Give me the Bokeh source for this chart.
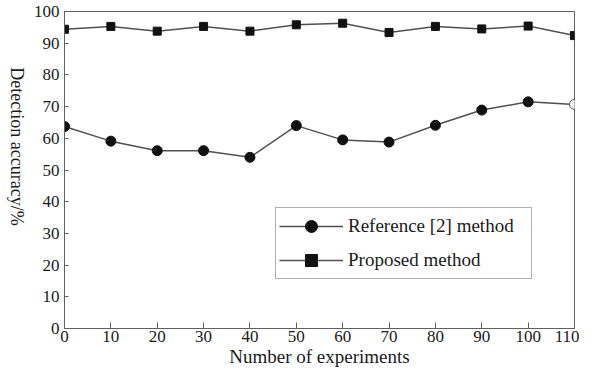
import math
from bokeh.plotting import figure
from bokeh.layouts import row
from bokeh.models import Range1d, FixedTicker, Legend, LegendItem, ColumnDataSource, Label
from bokeh.embed import file_html
from bokeh.resources import INLINE

# ---- data ----
experiments = [0, 10, 20, 30, 40, 50, 60, 70, 80, 90, 100, 110]
reference_acc = [63.7, 59.1, 56.1, 56.1, 54.0, 64.0, 59.5, 58.8, 64.1, 68.9, 71.5, 70.7]
proposed_acc = [94.4, 95.3, 93.8, 95.3, 93.8, 95.8, 96.3, 93.4, 95.3, 94.5, 95.4, 92.4]
x_ticks = [0, 10, 20, 30, 40, 50, 60, 70, 80, 90, 100, 110]
y_ticks = [0, 10, 20, 30, 40, 50, 60, 70, 80, 90, 100]
series_names = ["Reference [2] method", "Proposed method"]
x_title = "Number of experiments"
y_title = "Detection accuracy/%"

FONT = "Liberation Serif"
LINE = "#505050"
FRAME = "#606060"
MARK = "#111111"
TXT = "#1a1a1a"
H = 369
LW = 30

# narrow side figure that carries the y-axis title, reading top to bottom
side = figure(width=LW, height=H, output_backend="svg", toolbar_location=None,
              x_axis_location=None, y_axis_location=None,
              min_border=0, x_range=Range1d(0, 1), y_range=Range1d(0, 1))
side.grid.visible = False
side.outline_line_color = None
side.border_fill_color = "white"
side.add_layout(Label(x=16, y=H - 187, x_units="screen", y_units="screen", text=y_title,
                      angle=-math.pi / 2, text_align="center", text_baseline="middle",
                      text_font=FONT, text_font_size="18px", text_color=TXT))

p = figure(width=579 - LW, height=H, output_backend="svg", toolbar_location=None,
           x_range=Range1d(0, 110), y_range=Range1d(0, 100),
           min_border_left=61 - LW, min_border_right=5, min_border_top=11, min_border_bottom=39)
p.grid.visible = False
p.background_fill_color = "white"
p.border_fill_color = "white"
p.outline_line_color = FRAME
p.outline_line_width = 1

for ax in (p.xaxis[0], p.yaxis[0]):
    ax.axis_line_color = FRAME
    ax.major_tick_line_color = FRAME
    ax.minor_tick_line_color = None
    ax.major_tick_out = 0
    ax.major_label_text_font = FONT
    ax.major_label_text_font_size = "17px"
    ax.major_label_text_color = TXT
    ax.axis_label_text_font = FONT
    ax.axis_label_text_font_style = "normal"
    ax.axis_label_text_color = TXT

p.xaxis.ticker = FixedTicker(ticks=x_ticks)
p.yaxis.ticker = FixedTicker(ticks=y_ticks)
p.xaxis.major_tick_in = 6
p.yaxis.major_tick_in = 4
p.xaxis.major_label_standoff = 2
p.yaxis.major_label_standoff = 5
p.xaxis.axis_label = x_title
p.xaxis.axis_label_text_font_size = "19px"
p.xaxis.axis_label_standoff = 1

n = len(experiments)
ref_fill = [MARK] * (n - 1) + ["white"]
ref_line = [MARK] * (n - 1) + ["#555555"]
ref_src = ColumnDataSource(dict(x=experiments, y=reference_acc, fill=ref_fill, line=ref_line))
pro_src = ColumnDataSource(dict(x=experiments, y=proposed_acc))

l1 = p.line("x", "y", source=ref_src, line_color=LINE, line_width=1.5)
s1 = p.scatter("x", "y", source=ref_src, marker="circle", size=10,
               fill_color="fill", line_color="line", line_width=1)
l2 = p.line("x", "y", source=pro_src, line_color=LINE, line_width=1.5)
s2 = p.scatter("x", "y", source=pro_src, marker="square", size=8,
               fill_color=MARK, line_color=MARK, line_width=1)

legend = Legend(items=[LegendItem(label=series_names[0], renderers=[l1, s1], index=0),
                       LegendItem(label=series_names[1], renderers=[l2, s2], index=0)],
                location=(211, 49), orientation="vertical",
                glyph_width=64, glyph_height=30, label_height=30, label_width=180,
                label_standoff=5, spacing=4, padding=3, margin=0,
                label_text_font=FONT, label_text_font_size="19px", label_text_color=TXT,
                border_line_color=FRAME, border_line_width=1,
                background_fill_color="white", background_fill_alpha=1)
p.add_layout(legend, "center")

layout = row(side, p, spacing=0)
open("out.html", "w").write(file_html(layout, INLINE))
